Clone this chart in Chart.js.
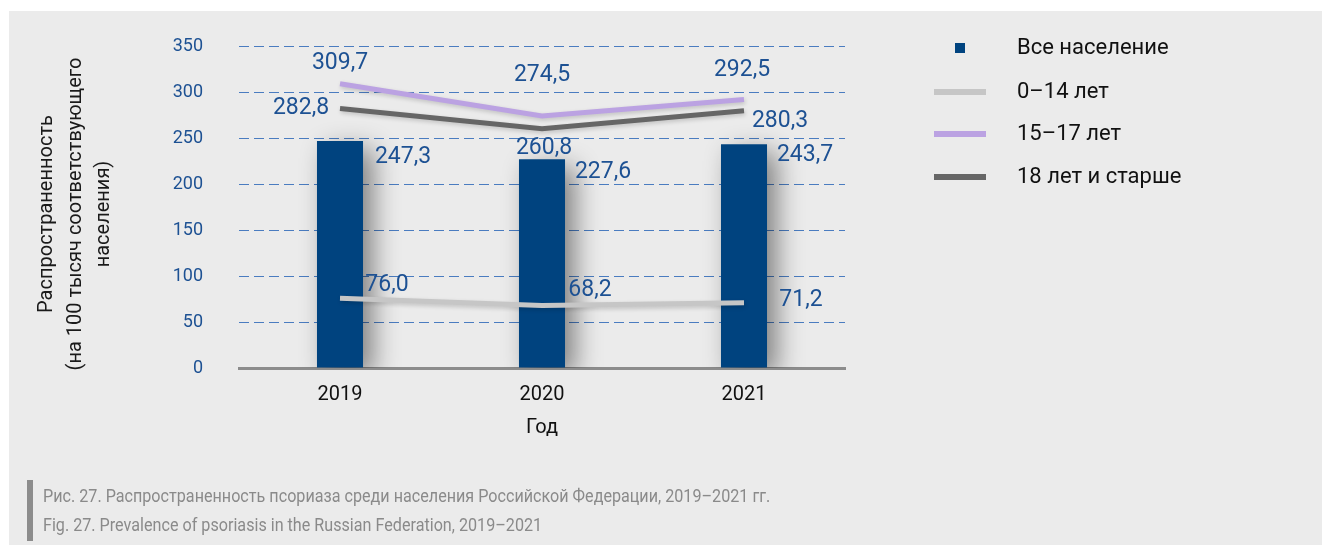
<!DOCTYPE html>
<html>
<head>
<meta charset="utf-8">
<script src="https://cdn.jsdelivr.net/npm/chart.js@4"></script>
<style>
  html, body { margin: 0; padding: 0; background: #ffffff; width: 1322px; height: 545px; overflow: hidden; }
  #panel { position: absolute; left: 9px; top: 11px; right: 0; bottom: 0; background: #ebebeb; }
  #c { position: absolute; left: 0; top: 0; }
  #capbar { position: absolute; left: 27px; top: 480px; width: 6px; height: 61px; background: #8c8c8c; }
  .cap { position: absolute; left: 43px; font-family: Roboto, sans-serif; font-size: 19px; color: #8a8a8a;
         transform-origin: 0 50%; transform: scaleX(0.85); white-space: nowrap; line-height: 20px; }
</style>
</head>
<body>
<div id="panel"></div>
<canvas id="c" width="1322" height="545"></canvas>
<div id="capbar"></div>
<div class="cap" style="top:486px">Рис. 27. Распространенность псориаза среди населения Российской Федерации, 2019–2021 гг.</div>
<div class="cap" style="top:515px">Fig. 27. Prevalence of psoriasis in the Russian Federation, 2019–2021</div>
<script>
// ---- data ----
const categories = ['2019', '2020', '2021'];
const seriesNames = ['Все население', '0–14 лет', '15–17 лет', '18 лет и старше'];
const allPopulation = [247.3, 227.6, 243.7];
const age0to14 = [76.0, 68.2, 71.2];
const age15to17 = [309.7, 274.5, 292.5];
const age18plus = [282.8, 260.8, 280.3];
const yTicks = [0, 50, 100, 150, 200, 250, 300, 350];
const yTitleLines = ['Распространенность', '(на 100 тысяч соответствующего', 'населения)'];
const xTitle = 'Год';

// ---- styles (label offsets relative to the point, text centre) ----
const labelOffsets = [
  [[63, 16], [61, 13], [61, 11]],
  [[47, -13], [48, -15], [57, -2]],
  [[0, -21], [0, -41], [-2, -29]],
  [[-39, 0], [2, 20], [36, 10]]
];
const FONT = 'Roboto, "Noto Sans", sans-serif';
const BLUE_TXT = '#1d5193';

const fmt = v => v.toFixed(1).replace('.', ',');

const shadowPlugin = {
  id: 'shadows',
  beforeDatasetDraw(chart, args) {
    const ctx = chart.ctx;
    ctx.save();
    if (args.meta.type === 'bar') {
      ctx.shadowColor = 'rgba(0,0,0,0.45)';
      ctx.shadowBlur = 26;
      ctx.shadowOffsetX = 10;
      ctx.shadowOffsetY = 8;
    } else {
      ctx.shadowColor = 'rgba(0,0,0,0.18)';
      ctx.shadowBlur = 4;
      ctx.shadowOffsetX = 1;
      ctx.shadowOffsetY = 2;
    }
  },
  afterDatasetDraw(chart) { chart.ctx.restore(); }
};

const labelPlugin = {
  id: 'valueLabels',
  afterDatasetsDraw(chart) {
    const ctx = chart.ctx;
    ctx.save();
    ctx.font = '23px ' + FONT;
    ctx.fillStyle = BLUE_TXT;
    ctx.textAlign = 'center';
    ctx.textBaseline = 'middle';
    chart.data.datasets.forEach((ds, di) => {
      const meta = chart.getDatasetMeta(di);
      meta.data.forEach((el, i) => {
        const off = labelOffsets[di][i];
        ctx.fillText(fmt(ds.data[i]), el.x + off[0], el.y + off[1]);
      });
    });
    ctx.restore();
  }
};

const extrasPlugin = {
  id: 'extras',
  afterDraw(chart) {
    const ctx = chart.ctx;
    // y title
    ctx.save();
    ctx.font = '20px ' + FONT;
    ctx.fillStyle = '#1a1a1a';
    ctx.textAlign = 'center';
    ctx.textBaseline = 'middle';
    const xs = [47, 76, 104];
    yTitleLines.forEach((t, i) => {
      ctx.save();
      ctx.translate(xs[i], 214);
      ctx.rotate(-Math.PI / 2);
      ctx.fillText(t, 0, 0);
      ctx.restore();
    });
    ctx.restore();
    // legend
    ctx.save();
    const ys = [48, 92, 134, 177];
    ctx.font = '22px ' + FONT;
    ctx.textBaseline = 'middle';
    ctx.textAlign = 'left';
    chart.data.datasets.forEach((ds, i) => {
      const y = ys[i];
      if (ds.type === 'bar') {
        ctx.fillStyle = ds.backgroundColor;
        ctx.fillRect(955, y - 5, 10, 10);
      } else {
        ctx.fillStyle = ds.borderColor;
        ctx.fillRect(934, y - 3, 52, 6);
      }
      ctx.fillStyle = '#111111';
      ctx.fillText(ds.label, 1017, y);
    });
    ctx.restore();
  }
};

new Chart(document.getElementById('c'), {
  data: {
    labels: categories,
    datasets: [
      { type: 'bar', label: seriesNames[0], data: allPopulation, backgroundColor: '#00437f',
        categoryPercentage: 1, barPercentage: 0.228, order: 10 },
      { type: 'line', label: seriesNames[1], data: age0to14, borderColor: '#c6c6c6', backgroundColor: '#c6c6c6',
        borderWidth: 5, pointRadius: 0, tension: 0, order: 3 },
      { type: 'line', label: seriesNames[2], data: age15to17, borderColor: '#bba2e2', backgroundColor: '#bba2e2',
        borderWidth: 5, pointRadius: 0, tension: 0, order: 2 },
      { type: 'line', label: seriesNames[3], data: age18plus, borderColor: '#666666', backgroundColor: '#666666',
        borderWidth: 5, pointRadius: 0, tension: 0, order: 1 }
    ]
  },
  options: {
    responsive: false,
    devicePixelRatio: 1,
    animation: false,
    layout: { padding: { left: 0, top: 44, right: 477, bottom: 97 } },
    plugins: { legend: { display: false }, tooltip: { enabled: false } },
    scales: {
      x: {
        grid: { display: false, drawTicks: false },
        border: { display: true, color: '#8c8c8c', width: 3 },
        ticks: { color: '#111111', font: { family: FONT, size: 20 }, padding: 15 },
        title: { display: true, text: xTitle, color: '#111111', font: { family: FONT, size: 20 },
                 padding: { top: 0, bottom: 8 } },
        afterFit(s) { s.height = 80; }
      },
      y: {
        min: 0, max: 350,
        afterBuildTicks(s) { s.ticks = yTicks.map(v => ({ value: v })); },
        grid: { color: '#4a7cc0', lineWidth: 1, drawTicks: false },
        border: { display: false, dash: [10, 5] },
        ticks: { color: BLUE_TXT, font: { family: FONT, size: 18 }, padding: 36 },
        afterFit(s) { s.width = 239; }
      }
    }
  },
  plugins: [shadowPlugin, labelPlugin, extrasPlugin]
});
</script>
</body>
</html>
